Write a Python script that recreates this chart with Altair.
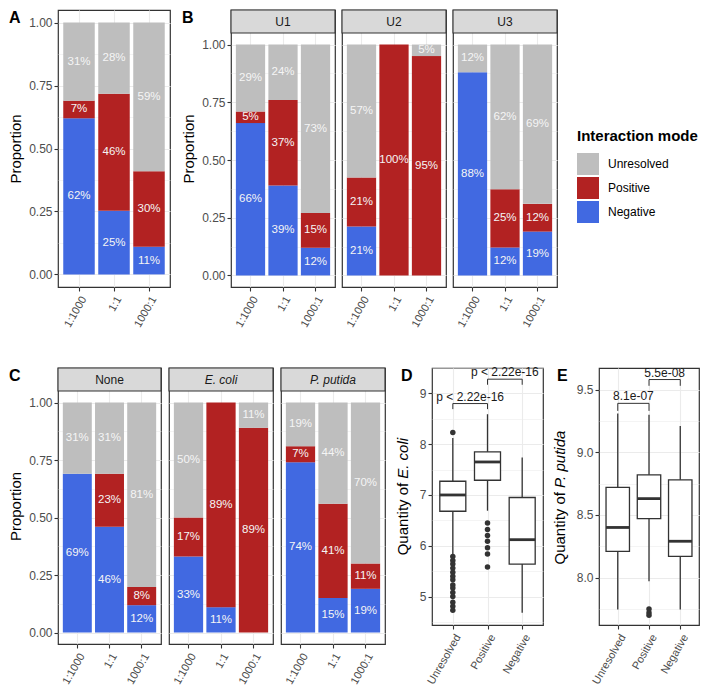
import json
import altair as alt
import pandas as pd

FONT = "Liberation Sans"
DARK = "#333333"
GRID = "#EBEBEB"
AX_TXT = "#4D4D4D"
STRIP_H = 23

# ---------------- data ----------------
ratios = ["1:1000", "1:1", "1000:1"]
modes = ["Unresolved", "Positive", "Negative"]
mode_colors = ["#BEBEBE", "#B22222", "#4169E1"]

# Panel A (percent per ratio)
A_negative = [62, 25, 11]
A_positive = [7, 46, 30]
A_unresolved = [31, 28, 59]

# Panel B
U1_negative = [66, 39, 12]
U1_positive = [5, 37, 15]
U1_unresolved = [29, 24, 73]
U2_negative = [21, 0, 0]
U2_positive = [21, 100, 95]
U2_unresolved = [57, 0, 5]
U3_negative = [88, 12, 19]
U3_positive = [0, 25, 12]
U3_unresolved = [12, 62, 69]

# Panel C
none_negative = [69, 46, 12]
none_positive = [0, 23, 8]
none_unresolved = [31, 31, 81]
ecoli_negative = [33, 11, 0]
ecoli_positive = [17, 89, 89]
ecoli_unresolved = [50, 0, 11]
pputida_negative = [74, 15, 19]
pputida_positive = [7, 41, 11]
pputida_unresolved = [19, 44, 70]

# Panels D / E (box summaries)
box_groups = ["Unresolved", "Positive", "Negative"]
D_lower = [5.81, 6.69, 4.68]
D_q1 = [6.68, 7.29, 5.64]
D_median = [7.00, 7.65, 6.12]
D_q3 = [7.27, 7.85, 6.95]
D_upper = [8.12, 8.59, 7.74]
D_out_unresolved = [8.23, 5.79, 5.71, 5.64, 5.56, 5.48, 5.40, 5.33, 5.23, 5.17, 5.08, 5.00, 4.89, 4.81, 4.73]
D_out_positive = [6.45, 6.32, 6.20, 6.09, 5.96, 5.84, 5.58]
D_out_negative = []
D_test_labels = ["p < 2.22e-16", "p < 2.22e-16"]
D_test_y = [8.80, 9.28]
D_test_tip = [8.69, 9.17]

E_lower = [7.745, 7.97, 7.745]
E_q1 = [8.21, 8.47, 8.17]
E_median = [8.40, 8.63, 8.29]
E_q3 = [8.72, 8.82, 8.78]
E_upper = [9.31, 9.30, 9.21]
E_out_unresolved = []
E_out_positive = [7.75, 7.72, 7.70]
E_out_negative = []
E_test_labels = ["8.1e-07", "5.5e-08"]
E_test_y = [9.39, 9.58]
E_test_tip = [9.33, 9.53]

test_from = [0, 1]
test_to = [1, 2]

bar_major = [0, 0.25, 0.5, 0.75, 1.0]
bar_minor = [0.125, 0.375, 0.625, 0.875]
D_major = [5, 6, 7, 8, 9]
D_minor = [4.5, 5.5, 6.5, 7.5, 8.5, 9.5]
E_major = [8.0, 8.5, 9.0, 9.5]
E_minor = [7.75, 8.25, 8.75, 9.25]


def bar_table(neg, pos, unr):
    rows = []
    for mode, ordv, vals in (("Negative", 0, neg), ("Positive", 1, pos), ("Unresolved", 2, unr)):
        for r, v in zip(ratios, vals):
            if v > 0:
                rows.append({"ratio": r, "mode": mode, "ord": ordv, "value": v})
    return pd.DataFrame(rows)


def y_axis(major, minor, fmt, show, title=None):
    test = f"indexof({json.dumps(minor)}, datum.value) >= 0"
    kw = dict(values=sorted(major + minor), grid=True, gridColor=GRID,
              gridWidth={"condition": {"test": test, "value": 0.55}, "value": 1.1},
              domain=False, labelOverlap=False, labelFlush=False)
    if show:
        kw.update(labels=True,
                  labelExpr=f"{test} ? '' : format(datum.value, '{fmt}')",
                  ticks=True, tickSize=4, tickWidth=1.1,
                  tickColor={"condition": {"test": test, "value": "transparent"}, "value": DARK},
                  labelPadding=2, labelFontSize=12, labelColor=AX_TXT)
        if title:
            kw.update(title=title, titleFontSize=15, titleFontWeight="normal",
                      titleColor="black", titlePadding=5)
        else:
            kw.update(title=None)
    else:
        kw.update(labels=False, ticks=False, title=None)
    return alt.Axis(**kw)


def x_axis(**extra):
    kw = dict(labelAngle=-60, labelAlign="right", labelBaseline="top",
              ticks=True, tickSize=4, tickWidth=1.1, tickColor=DARK,
              labelPadding=3, labelFontSize=11, labelColor=AX_TXT,
              grid=True, gridColor=GRID, gridWidth=1.1, domain=False, title=None,
              labelOverlap=False)
    kw.update(extra)
    return alt.Axis(**kw)


def letter_layer(letter, dx, y=13):
    return alt.Chart(alt.Data(values=[{"t": letter}])).mark_text(
        align="left", baseline="alphabetic", fontSize=16, fontWeight="bold", color="black"
    ).encode(x=alt.value(dx), y=alt.value(y), text="t:N")


def bar_panel(df, w, h, strip=None, italic=False, show_y=True, letter=None, legend=None):
    sh = STRIP_H if strip else 0
    ph = h - sh
    top = 1.05 + sh * 1.1 / ph
    yscale = alt.Scale(domain=[-0.05, top], nice=False, zero=False)
    xscale = alt.Scale(domain=ratios, paddingInner=0.1, paddingOuter=0.15)
    xax = x_axis(bandPosition=0.5)
    yax = y_axis(bar_major, bar_minor, ".2f", show_y, "Proportion" if show_y else None)
    base = alt.Chart(df).transform_stack(
        stack="value", groupby=["ratio"], as_=["y0", "y1"], offset="normalize",
        sort=[alt.SortField("ord", order="ascending")]
    ).transform_calculate(mid="(datum.y0 + datum.y1) / 2", label="datum.value + '%'")
    color = alt.Color("mode:N", scale=alt.Scale(domain=modes, range=mode_colors),
                      legend=legend if legend is not None else None)
    bars = base.mark_bar().encode(
        x=alt.X("ratio:N", sort=ratios, scale=xscale, axis=xax),
        y=alt.Y("y0:Q", scale=yscale, axis=yax),
        y2="y1:Q",
        color=color,
    )
    text = base.mark_text(color="#F5F5F5", fontSize=11.5).encode(
        x=alt.X("ratio:N", sort=ratios, scale=xscale, axis=xax),
        y=alt.Y("mid:Q", scale=yscale, axis=yax), text="label:N")
    layers = [bars, text]
    if strip:
        sdata = alt.Data(values=[{"name": strip}])
        layers.append(alt.Chart(sdata).mark_rect(fill="#D9D9D9", stroke=DARK, strokeWidth=1.1).encode(
            x=alt.value(0), x2=alt.value(w), y=alt.value(0), y2=alt.value(sh)))
        layers.append(alt.Chart(sdata).mark_text(
            fontSize=12, color="#1A1A1A", fontStyle="italic" if italic else "normal", baseline="middle"
        ).encode(x=alt.value(w / 2), y=alt.value(sh / 2 + 0.5), text="name:N"))
    if letter:
        layers.append(letter_layer(letter, -49))
    return alt.layer(*layers).properties(width=w, height=h)


def box_panel(lower, q1, med, q3, upper, outs, labels, ty, ttip, ydom, major, minor, fmt,
              w, h, letter, letter_dx, title_a, title_b, title_x, title_pivot):
    df = pd.DataFrame({"idx": list(range(len(box_groups))), "lower": lower, "q1": q1,
                       "median": med, "q3": q3, "upper": upper})
    orows = [{"idx": i, "value": v} for i, vals in enumerate(outs) for v in vals]
    odf = pd.DataFrame(orows)
    tdf = pd.DataFrame({"a": test_from, "b": test_to, "y": ty, "tip": ttip, "label": labels})
    xs = alt.Scale(domain=[-0.6, len(box_groups) - 1 + 0.6], nice=False, zero=False)
    ys = alt.Scale(domain=ydom, nice=False, zero=False)
    xax = x_axis(values=list(range(len(box_groups))),
                 labelExpr=f"{json.dumps(box_groups)}[datum.value]")
    yax = y_axis(major, minor, fmt, True, None)

    def enc(ch, xf, yf, x2=None, y2=None, **more):
        e = dict(x=alt.X(f"{xf}:Q", scale=xs, axis=xax), y=alt.Y(f"{yf}:Q", scale=ys, axis=yax))
        if x2:
            e["x2"] = f"{x2}:Q"
        if y2:
            e["y2"] = f"{y2}:Q"
        e.update(more)
        return ch.encode(**e)

    base = alt.Chart(df).transform_calculate(xl="datum.idx - 0.375", xr="datum.idx + 0.375")
    whisk = enc(base.mark_rule(color=DARK, strokeWidth=1.3), "idx", "lower", y2="upper")
    box = enc(base.mark_rect(fill="white", stroke=DARK, strokeWidth=1.3), "xl", "q1", x2="xr", y2="q3")
    medl = enc(base.mark_rule(color=DARK, strokeWidth=2.8), "xl", "median", x2="xr")
    pts = enc(alt.Chart(odf).mark_circle(color=DARK, size=30, opacity=1), "idx", "value")
    tb = alt.Chart(tdf).transform_calculate(mid="(datum.a + datum.b) / 2")
    hline = enc(tb.mark_rule(color=DARK, strokeWidth=1), "a", "y", x2="b")
    lleg = enc(tb.mark_rule(color=DARK, strokeWidth=1), "a", "tip", y2="y")
    rleg = enc(tb.mark_rule(color=DARK, strokeWidth=1), "b", "tip", y2="y")
    ttext = enc(tb.mark_text(fontSize=12, baseline="alphabetic", dy=-3, color="#1A1A1A"),
                "mid", "y", text="label:N")
    t1 = alt.Chart(alt.Data(values=[{"t": title_a}])).mark_text(
        angle=270, align="right", baseline="middle", fontSize=15, color="black"
    ).encode(x=alt.value(title_x), y=alt.value(title_pivot), text="t:N")
    t2 = alt.Chart(alt.Data(values=[{"t": title_b}])).mark_text(
        angle=270, align="left", baseline="middle", fontSize=15, color="black",
        fontStyle="italic", dx=4
    ).encode(x=alt.value(title_x), y=alt.value(title_pivot), text="t:N")
    return alt.layer(whisk, box, medl, pts, hline, lleg, rleg, ttext, t1, t2,
                     letter_layer(letter, letter_dx)).properties(width=w, height=h)


def spacer(w):
    return alt.Chart(alt.Data(values=[{"s": 0}])).mark_rect(opacity=0).encode(
        x=alt.value(0), x2=alt.value(1), y=alt.value(0), y2=alt.value(1)
    ).properties(width=w, height=1, view=alt.ViewBackground(stroke="transparent"))


UW = 104
legend = alt.Legend(title="Interaction mode", orient="none", legendX=UW + 20, legendY=119,
                    titleFontSize=15, titleFontWeight="bold", titleColor="black", titlePadding=9,
                    labelFontSize=12, labelColor="black", labelOffset=9,
                    symbolType="square", symbolSize=484, symbolStrokeWidth=0, symbolOpacity=1,
                    rowPadding=2)

H1 = 277
A = bar_panel(bar_table(A_negative, A_positive, A_unresolved), 112, H1, letter="A")
U1 = bar_panel(bar_table(U1_negative, U1_positive, U1_unresolved), UW, H1, strip="U1", letter="B")
U2 = bar_panel(bar_table(U2_negative, U2_positive, U2_unresolved), UW, H1, strip="U2", show_y=False)
U3 = bar_panel(bar_table(U3_negative, U3_positive, U3_unresolved), UW, H1, strip="U3", show_y=False,
               legend=legend)

H2 = 276
HB = 257
C1 = bar_panel(bar_table(none_negative, none_positive, none_unresolved), 103, H2, strip="None", letter="C")
C2 = bar_panel(bar_table(ecoli_negative, ecoli_positive, ecoli_unresolved), 104, H2, strip="E. coli",
               italic=True, show_y=False)
C3 = bar_panel(bar_table(pputida_negative, pputida_positive, pputida_unresolved), 104, H2,
               strip="P. putida", italic=True, show_y=False)

D = box_panel(D_lower, D_q1, D_median, D_q3, D_upper,
              [D_out_unresolved, D_out_positive, D_out_negative],
              D_test_labels, D_test_y, D_test_tip, [4.44, 9.50], D_major, D_minor, "d",
              111, HB, "D", -31, "Quantity of", "E. coli", -29, HB / 2 - 13.75)
E = box_panel(E_lower, E_q1, E_median, E_q3, E_upper,
              [E_out_unresolved, E_out_positive, E_out_negative],
              E_test_labels, E_test_y, E_test_tip, [7.622, 9.672], E_major, E_minor, ".1f",
              100, HB, "E", -42, "Quantity of", "P. putida", -39, HB / 2 - 4.55)

row1 = alt.hconcat(A, spacer(47), U1, U2, U3, spacing=7, bounds="flush").resolve_scale(color="independent")
row2 = alt.hconcat(C1, C2, C3, spacer(31), D, spacer(40), E, spacing=8, bounds="flush").resolve_scale(
    color="independent")

chart = alt.vconcat(row1, row2, spacing=31).resolve_scale(color="independent").properties(
    padding=0
).configure(font=FONT).configure_view(stroke=DARK, strokeWidth=1.2)

chart.save("out.html", embed_options={"renderer": "svg", "actions": False})
